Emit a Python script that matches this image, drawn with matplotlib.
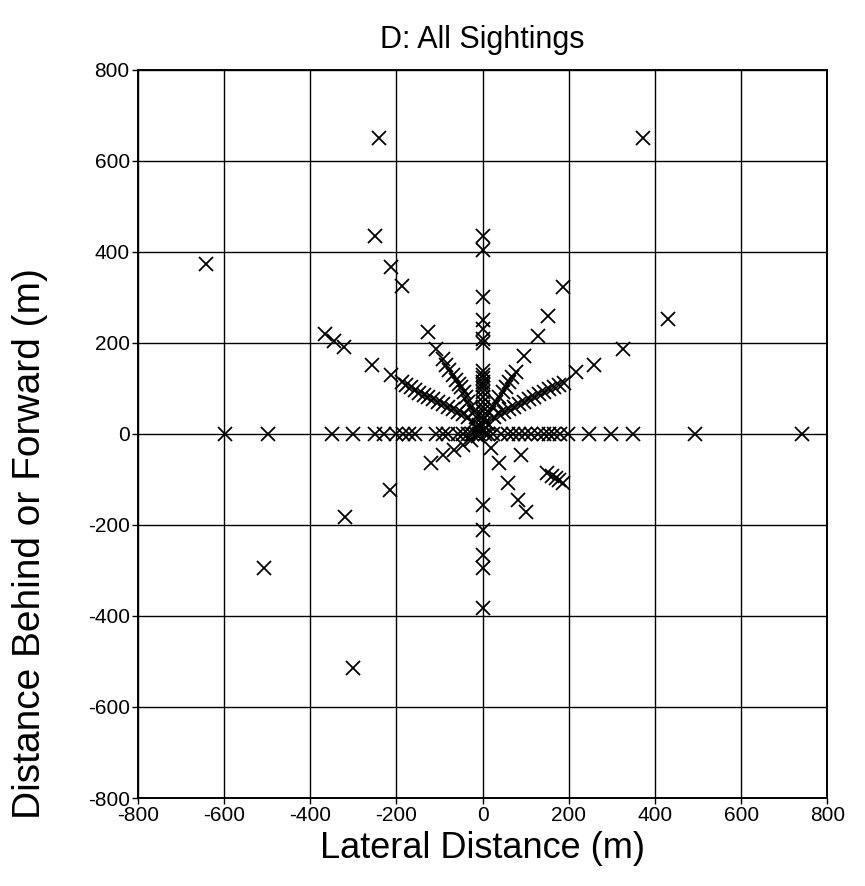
import matplotlib.pyplot as plt

plt.rcParams['font.family'] = ['Liberation Sans', 'DejaVu Sans']
plt.rcParams['axes.unicode_minus'] = False

# sightings lying on the lateral axis (y = 0)
axis_right_x = [5, 13, 25, 43, 59, 70, 84, 98, 112, 128, 142, 155, 166, 180, 197, 247, 297, 348, 493, 740]
axis_left_x = [-8, -15, -25, -34, -45, -57, -80, -92, -108, -158, -172, -185, -200, -228,
               -251, -300, -350, -498, -598]

# sightings straight ahead / behind (x = 0)
axis_up_y = [9, 20, 30, 40, 50, 60, 70, 80, 92, 100, 107, 115, 122, 130, 138,
             200, 208, 230, 250, 300, 405, 435]
axis_down_y = [-157, -212, -267, -294, -382]

# up-left ~30 deg
ul30_x = [-12, -23, -34, -46, -57, -68, -80, -92, -103, -115, -126, -137, -147, -157,
          -166, -177, -188, -212, -258, -322, -344, -367]
ul30_y = [10, 24, 38, 44, 49, 55, 60, 66, 71, 77, 82, 86, 90, 96, 102, 108, 113, 130, 152, 190, 203, 219]

# up-left ~60 deg
ul60_x = [-8, -15, -21, -27, -33, -38, -44, -50, -55, -61, -69, -77, -85, -92, -108, -126]
ul60_y = [20, 38, 49, 60, 71, 82, 92, 102, 110, 119, 130, 141, 152, 164, 186, 223]

# up-right ~30 deg
ur30_x = [15, 27, 38, 50, 62, 73, 85, 96, 108, 119, 131, 142, 154, 166, 177, 188, 216, 258, 325]
ur30_y = [20, 38, 44, 49, 55, 60, 66, 71, 77, 82, 88, 93, 99, 104, 108, 112, 135, 152, 186]

# up-right ~60 deg
ur60_x = [8, 15, 23, 31, 39, 47, 54, 61, 69, 77, 96, 128, 151, 186]
ur60_y = [25, 46, 58, 69, 80, 91, 102, 113, 124, 135, 170, 214, 259, 323]

# behind, left of track
ll_x = [-10, -27, -45, -66, -92, -119, -215, -320, -507, -300]
ll_y = [-5, -13, -24, -35, -46, -64, -124, -183, -294, -515]

# behind, right of track
lr_x = [20, 38, 59, 82, 100, 89, 150, 160, 170, 178, 186]
lr_y = [-30, -64, -108, -146, -172, -46, -85, -92, -97, -102, -108]

# scattered far sightings
far_x = [-240, 371, -642, -251, -212, -188, 429]
far_y = [650, 650, 373, 435, 367, 325, 252]

xs = (axis_right_x + axis_left_x + [0] * len(axis_up_y) + [0] * len(axis_down_y)
      + ul30_x + ul60_x + ur30_x + ur60_x + ll_x + lr_x + far_x)
ys = ([0] * len(axis_right_x) + [0] * len(axis_left_x) + axis_up_y + axis_down_y
      + ul30_y + ul60_y + ur30_y + ur60_y + ll_y + lr_y + far_y)

fig = plt.figure(figsize=(8.65, 8.86), dpi=100)
ax = fig.add_axes([0.1595, 0.0993, 0.797, 0.822])

ax.plot(xs, ys, linestyle='none', marker='x', color='black', markersize=10, markeredgewidth=1.3)

ax.set_xlim(-800, 800)
ax.set_ylim(-800, 800)
ticks = list(range(-800, 801, 200))
ax.set_xticks(ticks)
ax.set_yticks(ticks)
ax.grid(True, color='black', linewidth=1.0)
ax.set_axisbelow(True)
ax.tick_params(labelsize=15, length=4, width=1, direction='out', pad=2)
for s in ax.spines.values():
    s.set_linewidth(1.4)

ax.set_title('D: All Sightings', fontsize=22, pad=16)
ax.set_xlabel('Lateral Distance (m)', fontsize=26, labelpad=4)
ax.set_ylabel('Distance Behind or Forward (m)', fontsize=28)
ax.yaxis.set_label_coords(-0.13, 0.35)

fig.savefig('out.png', dpi=100)
